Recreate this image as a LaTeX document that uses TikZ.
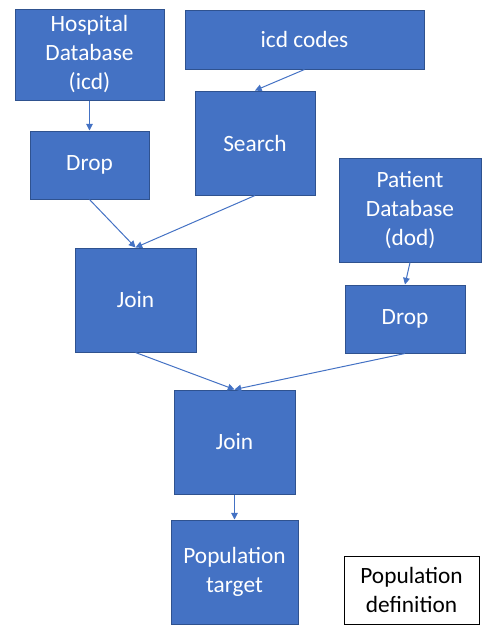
\documentclass[tikz,border=0pt]{standalone}
\usepackage{fontspec}
\setmainfont{Carlito}
\usetikzlibrary{arrows.meta}
\definecolor{boxblue}{HTML}{4472C4}
\definecolor{boxedge}{HTML}{2F528F}
\begin{document}
\begin{tikzpicture}[
                          x=0.75pt,y=-0.75pt,
                          stage/.style args={#1x#2}{draw=boxedge,fill=boxblue,text=white,line width=0.75pt,
                            align=center,inner sep=0pt,minimum width=#1*0.75pt,minimum height=#2*0.75pt,
                            font=\fontsize{17.5pt}{21.75pt}\selectfont},
                          legend/.style args={#1x#2}{stage=#1x#2,draw=black,fill=white,text=black},
                          flow/.style={draw=boxblue,line width=0.75pt,-{Triangle[length=5pt,width=5pt]}}
                        ]
                        \useasboundingbox (0,0) rectangle (493,633);

                        \node[stage=149x91] (hosp) at (89.5,54.5) {Hospital\\Database\\(icd)};
                        \node[stage=239x59] (codes) at (304.5,39.5) {icd codes};
                        \node[stage=119x68] (dropH) at (89.5,165) {Drop};
                        \node[stage=120x104] (search) at (255,143) {Search};
                        \node[stage=142x104] (patient) at (410,210) {Patient\\Database\\(dod)};
                        \node[stage=121x104] (joinA) at (135.5,300) {Join};
                        \node[stage=120x68] (dropP) at (405,319) {Drop};
                        \node[stage=121x104] (joinB) at (234.5,442) {Join};
                        \node[stage=127x104] (target) at (234.5,572) {Population\\target};
                        \node[legend=135x68] (defn) at (411.5,590) {Population\\definition};

                        \foreach \a/\b in {hosp/dropH,codes/search,dropH/joinA,search/joinA,
                                           patient/dropP,joinA/joinB,dropP/joinB,joinB/target} {
                            \draw[flow] (\a.south) -- (\b.north);
                          }
                      \end{tikzpicture}
\end{document}
